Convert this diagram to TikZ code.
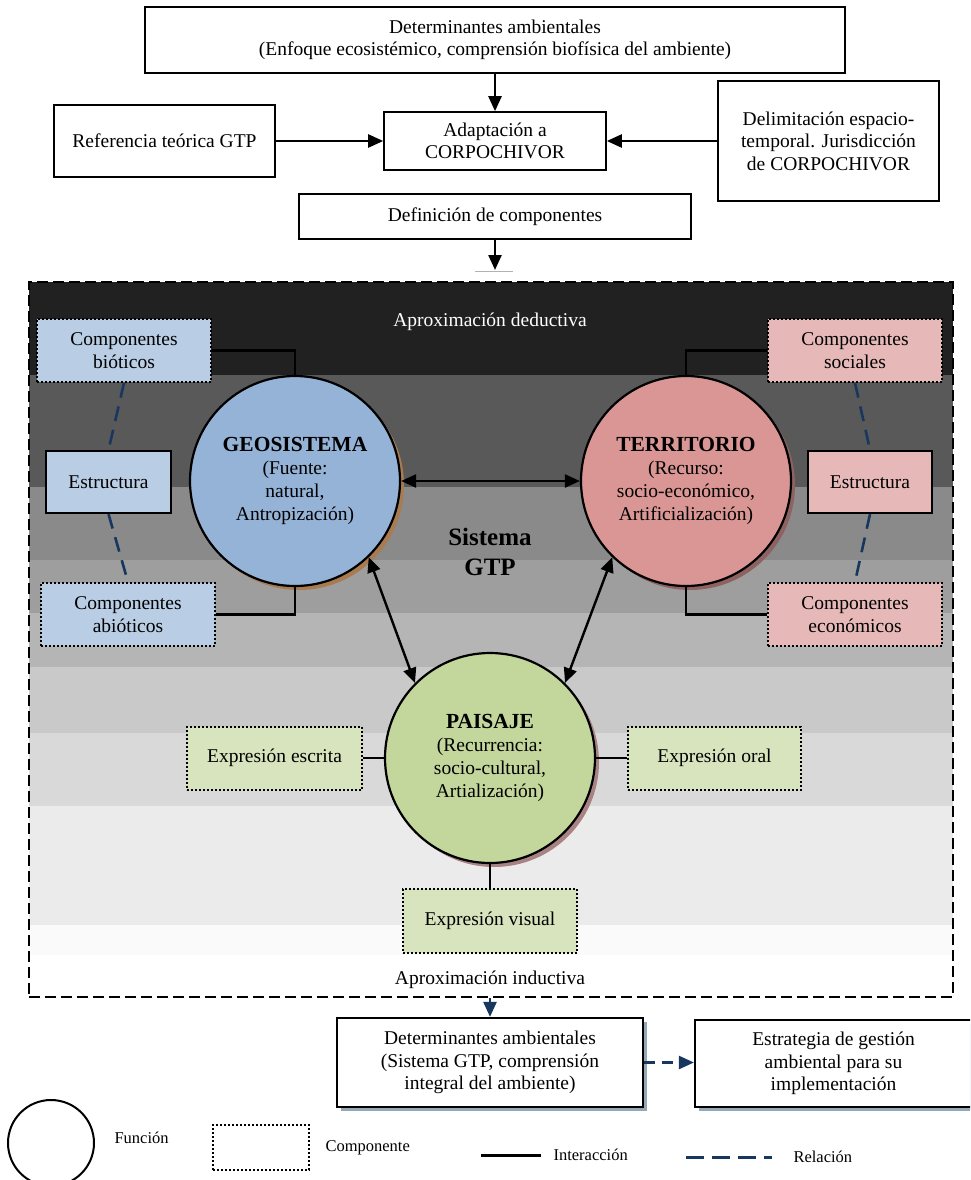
\documentclass[tikz,border=0pt]{standalone}
\usepackage{fontspec}
\setmainfont{Liberation Serif}
\usetikzlibrary{arrows.meta, shadows}

\definecolor{geofondo}{HTML}{95B3D7}
\definecolor{geosombra}{HTML}{A97B50}
\definecolor{terfondo}{HTML}{D99694}
\definecolor{tersombra}{HTML}{8E6261}
\definecolor{paifondo}{HTML}{C3D69B}
\definecolor{paisombra}{HTML}{A98384}
\definecolor{compazul}{HTML}{B9CDE5}
\definecolor{comprojo}{HTML}{E6B9B8}
\definecolor{compverde}{HTML}{D7E4BD}
\definecolor{azuloscuro}{HTML}{17375E}
\definecolor{cajasombra}{HTML}{93A9B9}

\newcommand{\fuentecaja}{\fontsize{19.5}{22.5}\selectfont}
\newcommand{\fuenteley}{\fontsize{16.5}{19}\selectfont}
\newcommand{\titulo}[1]{{\fontsize{21.5}{23}\selectfont\bfseries #1}}

\tikzset{
    caja/.style={draw, line width=1.6pt, fill=white, align=center, inner sep=2pt, font=\fuentecaja},
    comp/.style={caja, line width=2pt, dash pattern=on 2pt off 2pt},
    funcion/.style={draw, circle, line width=2.2pt, minimum size=210pt, inner sep=0pt, align=center, font=\fontsize{19.5}{23}\selectfont},
    sombra/.style={drop shadow={shadow xshift=4pt, shadow yshift=-4pt, fill=#1, opacity=1}},
    flecha/.style={line width=2.4pt, -{Triangle[length=15pt, width=13pt]}},
    doble/.style={line width=2.4pt, {Triangle[length=15pt, width=13pt]}-{Triangle[length=15pt, width=13pt]}},
    interac/.style={line width=2.6pt},
    relac/.style={draw=azuloscuro, line width=2.6pt, dash pattern=on 15pt off 9pt},
}

\begin{document}
\begin{tikzpicture}[x=1pt, y=-1pt]
\useasboundingbox (0,0) rectangle (970,1180);
\clip (0,0) rectangle (970,1180);

% cadena de entrada
\node[caja, minimum width=700pt, minimum height=66pt] (topdet) at (495,40) {Determinantes ambientales\\(Enfoque ecosistémico, comprensión biofísica del ambiente)};
\node[caja, minimum width=222pt, minimum height=58pt] (adapt) at (495,141) {Adaptación a\\CORPOCHIVOR};
\node[caja, minimum width=221pt, minimum height=72pt] (refteo) at (164.5,141) {Referencia teórica GTP};
\node[caja, minimum width=221pt, minimum height=120pt] (delim) at (828.5,141) {Delimitación espacio-\\temporal. Jurisdicción\\de CORPOCHIVOR};
\node[caja, minimum width=392pt, minimum height=45pt] (defcomp) at (495,216.5) {Definición de componentes};
\coordinate (gtpin) at (495,270);

\draw[flecha] (topdet) -- (adapt);
\draw[flecha] (refteo) -- (adapt);
\draw[flecha] (delim) -- (adapt);
\draw[flecha] (defcomp) -- (gtpin);
\draw[black!30] ([xshift=-20pt, yshift=-1pt]gtpin) -- ([xshift=18pt, yshift=-1pt]gtpin);

% fondo del sistema GTP
\foreach \ya/\yb/\tono in {282/375/87, 375/487/65, 487/560/46, 560/613/38, 613/667/29, 667/733/21, 733/806/15, 806/925/8, 925/955/2}
    \fill[black!\tono] (29,\ya) rectangle (953,\yb);
\node[draw, line width=1.8pt, dash pattern=on 11pt off 5pt, minimum width=924pt, minimum height=715pt, inner sep=0pt] (gtp) at (491,639.5) {};
\node[font=\fuentecaja, text=white] (aprded) at (490,322) {Aproximación deductiva};
\node[font=\fontsize{25}{30}\selectfont\bfseries, align=center] (sisgtp) at (490,552) {Sistema\\GTP};

% funciones
\node[funcion, fill=geofondo, sombra=geosombra] (geo) at (295,481) {\titulo{GEOSISTEMA}\\(Fuente:\\natural,\\Antropización)};
\node[funcion, fill=terfondo, sombra=tersombra] (terr) at (686,481) {\titulo{TERRITORIO}\\(Recurso:\\socio-económico,\\Artificialización)};
\node[funcion, fill=paifondo, sombra=paisombra] (paisaje) at (490,758) {\titulo{PAISAJE}\\(Recurrencia:\\socio-cultural,\\Artialización)};

% componentes
\node[comp, fill=compazul, minimum width=174pt, minimum height=63pt] (biot) at (124,350.5) {Componentes\\bióticos};
\node[caja, fill=compazul, line width=2.2pt, minimum width=125pt, minimum height=62pt] (estrL) at (108.5,482) {Estructura};
\node[comp, fill=compazul, minimum width=174pt, minimum height=63pt] (abiot) at (128,614.5) {Componentes\\abióticos};
\node[comp, fill=comprojo, minimum width=174pt, minimum height=63pt] (social) at (855,350.5) {Componentes\\sociales};
\node[caja, fill=comprojo, line width=2.2pt, minimum width=124pt, minimum height=62pt] (estrR) at (870,482) {Estructura};
\node[comp, fill=comprojo, minimum width=174pt, minimum height=63pt] (econ) at (855,614.5) {Componentes\\económicos};
\node[comp, fill=compverde, minimum width=175pt, minimum height=63pt] (escrita) at (274.5,758) {Expresión escrita};
\node[comp, fill=compverde, minimum width=173pt, minimum height=63pt] (oral) at (714.5,758) {Expresión oral};
\node[comp, fill=compverde, minimum width=174pt, minimum height=64pt] (visual) at (490,921) {Expresión visual};

\draw[interac] (biot.east) -| (geo.north);
\draw[interac] (abiot.east) -| (geo.south);
\draw[interac] (social.west) -| (terr.north);
\draw[interac] (econ.west) -| (terr.south);
\draw[interac] (escrita) -- (paisaje);
\draw[interac] (oral) -- (paisaje);
\draw[interac] (visual) -- (paisaje);
\draw[relac] (biot.south) -- (estrL.north);
\draw[relac] (estrL.south) -- (abiot.north);
\draw[relac] (social.south) -- (estrR.north);
\draw[relac] (estrR.south) -- (econ.north);

\draw[doble] (geo) -- (terr);
\draw[doble] (geo.314) -- (paisaje.135);
\draw[doble] (terr.226) -- (paisaje.45);

% salida
\node[font=\fuentecaja] (aprind) at (490,980) {Aproximación inductiva};
\node[caja, line width=2.2pt, sombra=cajasombra, minimum width=306pt, minimum height=89pt] (detgtp) at (490,1062.5) {Determinantes ambientales\\(Sistema GTP, comprensión\\integral del ambiente)};
\node[caja, line width=2.2pt, sombra=cajasombra, minimum width=277pt, minimum height=87pt] (estrat) at (833.5,1063.5) {Estrategia de gestión\\ambiental para su\\implementación};
\draw[flecha, azuloscuro] (gtp.south -| detgtp) -- (detgtp);
\draw[flecha, azuloscuro, dash pattern=on 11pt off 7pt] (detgtp.east) -- (detgtp.east -| estrat.west);

% leyenda
\node[draw, circle, line width=2pt, minimum size=86pt] (legfun) at (51,1143) {};
\node[font=\fuenteley, anchor=west] (legfuntxt) at (111,1138) {Función};
\node[draw, line width=2pt, dash pattern=on 2pt off 2pt, minimum width=96pt, minimum height=45pt] (legcomp) at (261,1147.5) {};
\node[font=\fuenteley, anchor=west] (legcomptxt) at (322,1148) {Componente};
\coordinate (legint1) at (481,1155);
\coordinate (legint2) at (541,1155);
\draw[interac, line width=3pt] (legint1) -- (legint2);
\node[font=\fuenteley, anchor=west] (leginttxt) at (550,1155) {Interacción};
\coordinate (legrel1) at (686,1157);
\coordinate (legrel2) at (772,1157);
\draw[relac, line width=3pt, dash pattern=on 18pt off 8pt] (legrel1) -- (legrel2);
\node[font=\fuenteley, anchor=west] (legreltxt) at (790,1157) {Relación};
\end{tikzpicture}
\end{document}
